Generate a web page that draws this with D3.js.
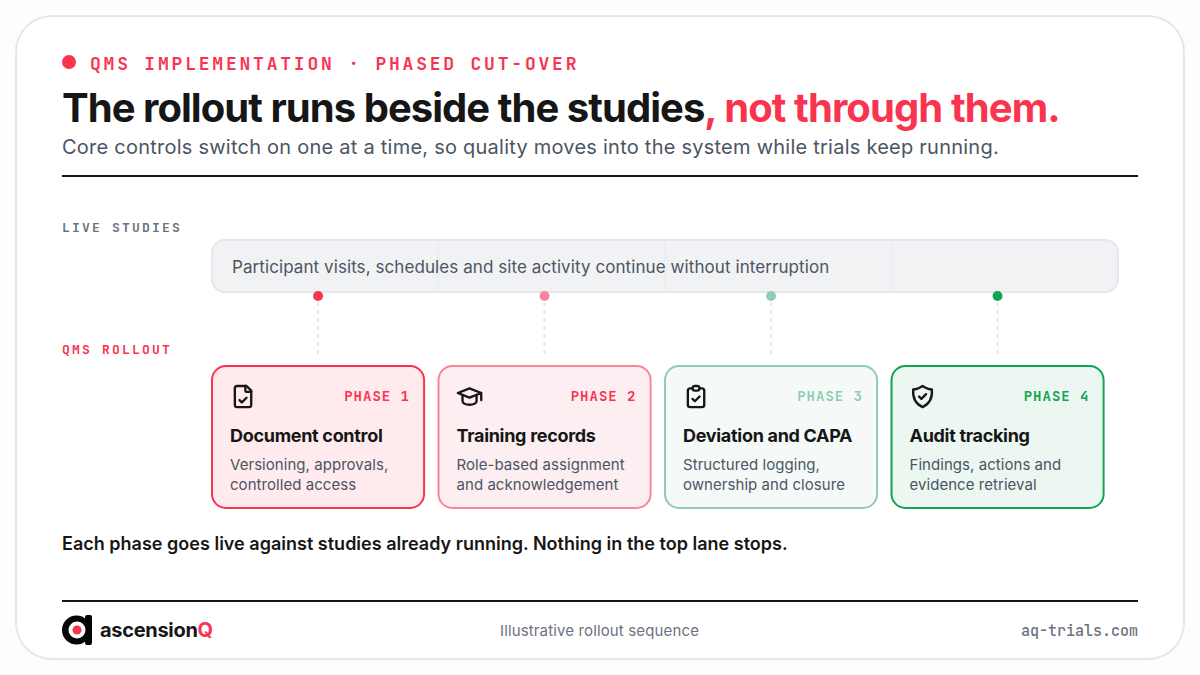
<!DOCTYPE html>
<html><head><meta charset="utf-8">
<script src="https://cdn.jsdelivr.net/npm/d3@7"></script>
<style>html,body{margin:0;padding:0;background:#fdfdfe;width:1200px;height:675px;overflow:hidden}
#wrap{position:relative;width:1200px;height:675px}
svg{position:absolute;left:0;top:0}
.t{position:absolute;white-space:nowrap;line-height:0;font-family:Inter,sans-serif}
.m{font-family:"JetBrains Mono","DejaVu Sans Mono",monospace}</style></head><body>
<div id="wrap"><svg id="c" width="1200" height="675" viewBox="0 0 1200 675"></svg></div>
<script>
const eyebrow = "QMS IMPLEMENTATION · PHASED CUT-OVER";
const titleDark = "The rollout runs beside the studies";
const titleRed = ", not through them.";
const subtitle = "Core controls switch on one at a time, so quality moves into the system while trials keep running.";
const laneTop = "LIVE STUDIES";
const laneBottom = "QMS ROLLOUT";
const laneText = "Participant visits, schedules and site activity continue without interruption";
const phases = ["PHASE 1","PHASE 2","PHASE 3","PHASE 4"];
const cardTitles = ["Document control","Training records","Deviation and CAPA","Audit tracking"];
const cardLine1 = ["Versioning, approvals,","Role-based assignment","Structured logging,","Findings, actions and"];
const cardLine2 = ["controlled access","and acknowledgement","ownership and closure","evidence retrieval"];
const note = "Each phase goes live against studies already running. Nothing in the top lane stops.";
const accent = ["#f8344f","#f7869a","#8fcdb0","#12a355"];
const labelInk = ["#f8344f","#f8344f","#8fcdb0","#12a355"];
const fills = ["#ffebee","#fdeef1","#f5faf8","#ecf7f1"];
const iconPaths = [
 ["M15 3H7a2 2 0 0 0-2 2v14a2 2 0 0 0 2 2h10a2 2 0 0 0 2-2V7z","M14 3v4a1 1 0 0 0 1 1h4","M9 15l2 2 4-4"],
 ["M22 9L12 5 2 9l10 4 10-4v6","M6 10.6V16a6 3 0 0 0 12 0v-5.4"],
 ["M9 5H7a2 2 0 0 0-2 2v12a2 2 0 0 0 2 2h10a2 2 0 0 0 2-2V7a2 2 0 0 0-2-2h-2","M9 5a2 2 0 0 1 2-2h2a2 2 0 0 1 2 2v0a2 2 0 0 1-2 2h-2a2 2 0 0 1-2-2z","M9 14l2 2 4-4"],
 ["M12 3c3 2 5.500 3 8 3c.5 7-2.500 12.500-8 15c-5.500-2.500-8.500-8-8-15c2.500 0 5-1 8-3z","M9 12l2 2 4-4"]
];
const footerMid = "Illustrative rollout sequence";
const footerRight = "aq-trials.com";

const svg = d3.select("#c"), wrap = d3.select("#wrap");
const red = "#f8344f", ink = "#161616", grey = "#4b5563", muted = "#6b7280";
function label(x, y, size, weight, color, txt, o={}){
  const d = wrap.append("div").attr("class", o.mono ? "t m" : "t")
    .style("top", (y - 0.364*size)+"px").style("font-size", size+"px").style("font-weight", weight)
    .style("color", color).style("letter-spacing", (o.ls||0)+"px");
  if(o.right!==undefined) d.style("right",(1200-o.right)+"px"); else d.style("left", x+"px");
  if(o.center) d.style("transform","translateX(-50%)");
  d.text(txt);
  return d;
}
svg.append("rect").attr("x",16).attr("y",16).attr("width",1168).attr("height",643).attr("rx",36)
  .attr("fill","#fff").attr("stroke","#e6e7ec").attr("stroke-width",2);

svg.append("circle").attr("cx",69).attr("cy",62).attr("r",7).attr("fill",red);
label(90,71,18,700,red,eyebrow,{mono:true,ls:2.79});
const t = label(62,123,40,700,ink,titleDark,{ls:-0.96});
t.append("span").style("color",red).style("letter-spacing","-0.9px").text(titleRed);
label(62,154,20,400,grey,subtitle,{ls:0.24});
svg.append("line").attr("x1",62).attr("x2",1138).attr("y1",176).attr("y2",176).attr("stroke",ink).attr("stroke-width",2);

label(62,233,13,700,muted,laneTop,{mono:true,ls:2.21});
label(62,355,13,700,red,laneBottom,{mono:true,ls:2.21});

const x = d3.scaleBand().domain(phases).range([211,1104.6]).paddingInner(0.0548).paddingOuter(0);
svg.append("rect").attr("x",212).attr("y",240).attr("width",906).attr("height",52).attr("rx",13)
  .attr("fill","#f1f2f4").attr("stroke","#e6e7ec").attr("stroke-width",2);
svg.selectAll(".sep").data(phases.slice(1)).join("line").attr("class","sep")
  .attr("x1",d=>x(d)+1).attr("x2",d=>x(d)+1).attr("y1",241).attr("y2",290)
  .attr("stroke","#e6e7ec").attr("stroke-width",1.5).attr("stroke-dasharray","4 4");
label(232,273,17,400,grey,laneText,{ls:0.08});

const g = svg.selectAll(".card").data(phases).join("g").attr("class","card");
const cx = d=>x(d)+x.bandwidth()/2;
g.append("line").attr("x1",cx).attr("x2",cx).attr("y1",302).attr("y2",356)
  .attr("stroke","#e6e7ec").attr("stroke-width",2).attr("stroke-dasharray","4 4");
g.append("circle").attr("cx",cx).attr("cy",296).attr("r",5).attr("fill",(d,i)=>accent[i]);
g.append("rect").attr("x",d=>x(d)+1).attr("y",366).attr("width",x.bandwidth()-2).attr("height",142).attr("rx",14)
  .attr("fill",(d,i)=>fills[i]).attr("stroke",(d,i)=>accent[i]).attr("stroke-width",2);
phases.forEach((d,i)=>{
  label(0,401,14,700,labelInk[i],d,{mono:true,ls:1.0,right:x(d)+199});
  label(x(d)+19,443,18,700,ink,cardTitles[i],{ls:-0.3});
  label(x(d)+19,470,15,400,grey,cardLine1[i],{ls:0.05});
  label(x(d)+19,490,15,400,grey,cardLine2[i],{ls:0.05});
});
g.each(function(d,i){
  const ic = d3.select(this).append("g").attr("transform",`translate(${x(d)+18},${382.5}) scale(1.17)`)
    .attr("fill","none").attr("stroke",ink).attr("stroke-width",2).attr("stroke-linecap","round").attr("stroke-linejoin","round");
  iconPaths[i].forEach(p=>ic.append("path").attr("d",p));
});

label(62,551,18,600,ink,note,{ls:0.012});
svg.append("line").attr("x1",62).attr("x2",1138).attr("y1",601).attr("y2",601).attr("stroke",ink).attr("stroke-width",2);

svg.append("circle").attr("cx",76.5).attr("cy",630).attr("r",14.5).attr("fill","#050505");
svg.append("rect").attr("x",85).attr("y",615).attr("width",7).attr("height",30).attr("rx",2).attr("fill","#050505");
svg.append("circle").attr("cx",77).attr("cy",630).attr("r",8.5).attr("fill","#fff");
svg.append("circle").attr("cx",77).attr("cy",630).attr("r",4.5).attr("fill",red);
const b = label(100,637,20,700,ink,"ascension",{ls:-0.3});
b.append("span").style("color",red).text("Q");
label(599.5,636,15,400,muted,footerMid,{center:true,ls:0.14});
label(0,636,15,500,muted,footerRight,{mono:true,right:1138});
</script></body></html>
